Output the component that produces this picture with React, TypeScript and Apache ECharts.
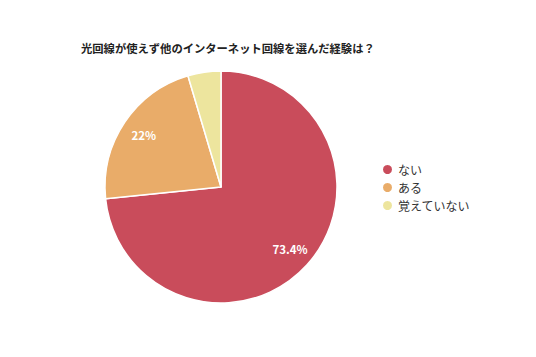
import React, { useEffect, useRef } from "react";
import * as echarts from "echarts";

const title = "光回線が使えず他のインターネット回線を選んだ経験は？";
const categories = ["ない", "ある", "覚えていない"];
const values = [73.4, 22, 4.6];
const labels = ["73.4%", "22%", ""];
const colors = ["#c94c5b", "#e9ac69", "#ede59e"];

const FONT = "'Noto Sans CJK JP', 'Noto Sans', sans-serif";

export default function App() {
  const ref = useRef<HTMLDivElement>(null);
  useEffect(() => {
    if (!ref.current) return;
    const chart = echarts.init(ref.current, null, { renderer: "svg" });
    const data = categories.map((name, i) => ({
      name,
      value: values[i],
      itemStyle: { color: colors[i] },
    }));
    chart.setOption({
      animation: false,
      backgroundColor: "#ffffff",
      title: {
        text: title,
        left: 76,
        top: 37,
        textStyle: { fontSize: 11.3, fontWeight: "bold", color: "#222", fontFamily: FONT },
      },
      legend: {
        orient: "vertical",
        left: 376,
        top: 158,
        icon: "circle",
        itemWidth: 11,
        itemHeight: 11,
        itemGap: 5,
        data: categories,
        textStyle: { fontSize: 12, color: "#333", fontFamily: FONT },
      },
      series: [
        {
          type: "pie",
          center: [221, 187],
          radius: [0, 116],
          startAngle: 90,
          clockwise: true,
          data,
          label: { show: false },
          labelLine: { show: false },
          itemStyle: { borderColor: "#ffffff", borderWidth: 1.5 },
          emphasis: { disabled: true },
        },
        {
          type: "pie",
          center: [221, 187],
          radius: [64, 116],
          startAngle: 90,
          clockwise: true,
          silent: true,
          legendHoverLink: false,
          data: data.map((d, i) => ({
            name: d.name,
            value: d.value,
            itemStyle: { color: "transparent" },
            label: { formatter: labels[i] },
          })),
          label: {
            show: true,
            position: "inside",
            color: "#ffffff",
            fontSize: 11.5,
            fontWeight: "bold",
            fontFamily: FONT,
          },
          labelLine: { show: false },
          itemStyle: { borderWidth: 0 },
          emphasis: { disabled: true },
        },
      ],
    });
    return () => chart.dispose();
  }, []);
  return (
    <div
      ref={ref}
      style={{ position: "fixed", left: 0, top: 0, width: 536, height: 357 }}
    />
  );
}
